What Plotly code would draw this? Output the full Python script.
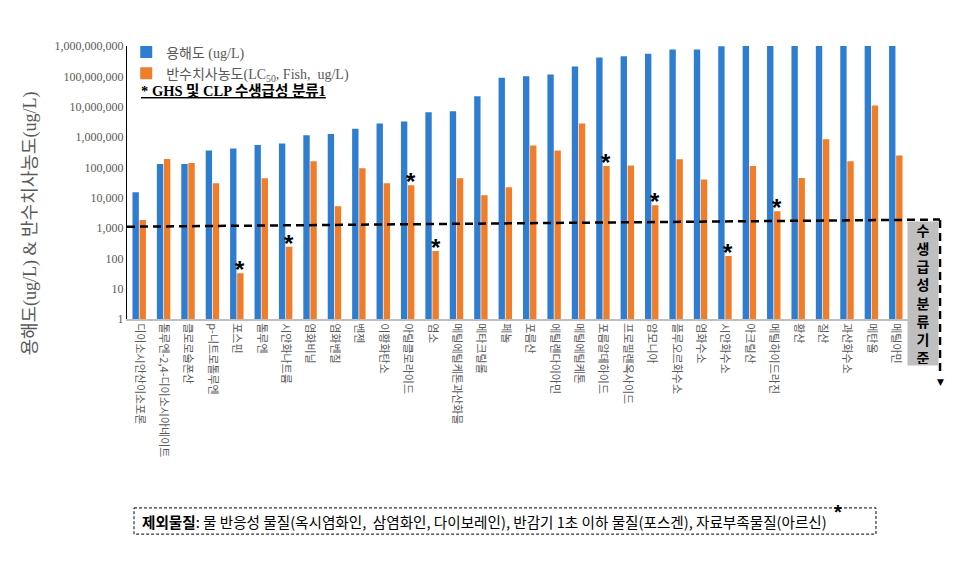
import math
import plotly.graph_objects as go

categories = [
    "디이소시안산이소포론", "톨루엔-2,4-디이소시아네이트", "클로로술폰산", "p-니트로톨루엔",
    "포스핀", "톨루엔", "시안화나트륨", "염화비닐", "염화벤질", "벤젠", "이황화탄소",
    "아릴클로라이드", "염소", "메틸에틸케톤과산화물", "메타크릴롤", "페놀", "포름산",
    "에틸렌다이아민", "메틸에틸케톤", "포름알데하이드", "프로필렌옥사이드", "암모니아",
    "플루오르화수소", "염화수소", "시안화수소", "아크릴산", "메틸하이드라진", "황산",
    "질산", "과산화수소", "메탄올", "메틸아민",
]

solubility = [
    15000, 128000, 128000, 360000, 420000, 540000, 610000, 1150000, 1250000, 1870000,
    2800000, 3250000, 6600000, 7100000, 22000000, 90000000, 100000000, 115000000,
    210000000, 420000000, 460000000, 560000000, 760000000, 760000000, 980000000,
    1000000000, 1000000000, 1000000000, 1000000000, 1000000000, 1000000000, 1050000000,
]

lc50_fish = [
    1850, 187000, 138000, 30000, 32, 44000, 240, 158000, 5200, 93000,
    30000, 25500, 173, 44000, 12000, 22000, 520000, 360000,
    2800000, 110000, 116000, 5600, 183000, 40000, 120,
    110000, 3550, 44500, 850000, 158000, 11000000, 245000,
]

ghs_cat1 = [
    False, False, False, False, True, False, True, False, False, False,
    False, True, True, False, False, False, False, False,
    False, True, False, True, False, False, True,
    False, True, False, False, False, False, False,
]

threshold_line = [1100, 1900]

y_tickvals = [1, 10, 100, 1000, 10000, 100000, 1000000, 10000000, 100000000, 1000000000]
y_ticktext = ["1", "10", "100", "1,000", "10,000", "100,000", "1,000,000",
              "10,000,000", "100,000,000", "1,000,000,000"]

BLUE = "#2E7DD1"
ORANGE = "#F07D2A"
GRAY = "#595959"
FONT = "Liberation Serif, Noto Sans CJK KR"
KFONT = "Noto Sans CJK KR"

fig = go.Figure()
fig.add_trace(go.Bar(
    x=categories, y=solubility, name="용해도 (ug/L)",
    marker=dict(color=BLUE, line=dict(width=0)),
))
fig.add_trace(go.Bar(
    x=categories, y=lc50_fish, name="반수치사농도(LC<sub>50</sub>, Fish,  ug/L)",
    marker=dict(color=ORANGE, line=dict(width=0)),
))

annotations = []
for cat, v, flag in zip(categories, lc50_fish, ghs_cat1):
    if flag:
        annotations.append(dict(
            x=cat, y=math.log10(v), xref="x", yref="y", xshift=3.5, yshift=-12,
            text="<b>*</b>", showarrow=False, yanchor="bottom",
            font=dict(family="Liberation Sans", size=24, color="black"),
        ))

# legend third line
annotations.append(dict(
    x=0.016, y=0.835, xref="paper", yref="paper", xanchor="left", yanchor="middle",
    text="<b><u>* GHS 및 CLP 수생급성 분류1</u></b>", showarrow=False,
    font=dict(family=FONT, size=14.5, color="black"),
))
# y axis title
annotations.append(dict(
    x=-0.124, y=0.35, xref="paper", yref="paper", textangle=-90,
    xanchor="center", yanchor="middle",
    text="용해도(ug/L) & 반수치사농도(ug/L)", showarrow=False,
    font=dict(family=FONT, size=18, color=GRAY),
))
# gray criterion box
annotations.append(dict(
    x=1.019, y=0.093, xref="paper", yref="paper", xanchor="center", yanchor="middle",
    text="<b>" + "<br>".join(list("수생급성분류기준")) + "</b>", showarrow=False,
    bgcolor="#BFBFBF", width=28, height=141, align="center", valign="middle",
    font=dict(family=KFONT, size=14, color="black"),
))
# arrow head
annotations.append(dict(
    x=1.041, y=-0.205, xref="paper", yref="paper", xanchor="center", yanchor="top",
    text="▼", showarrow=False,
    font=dict(family="DejaVu Sans", size=9, color="black"),
))
# bottom note
annotations.append(dict(
    x=0.017, y=-0.742, xref="paper", yref="paper", xanchor="left", yanchor="middle",
    text=("<b>제외물질</b>: 물 반응성 물질(옥시염화인,  삼염화인, 다이보레인), "
          "반감기 1초 이하 물질(포스겐), 자료부족물질(아르신)"),
    showarrow=False, font=dict(family=KFONT, size=14.6, color="black"),
))
annotations.append(dict(
    x=0.91, y=-0.708, xref="paper", yref="paper", xanchor="center", yanchor="middle",
    text="<b>*</b>", showarrow=False,
    font=dict(family="Liberation Sans", size=20, color="black"),
))

shapes = [
    dict(type="line", xref="paper", yref="y", x0=0, x1=1.041,
         y0=threshold_line[0], y1=threshold_line[1],
         line=dict(color="black", width=2.5, dash="8px,5px")),
    dict(type="line", xref="paper", yref="paper", x0=1.041, x1=1.041,
         y0=0.363, y1=-0.205,
         line=dict(color="black", width=2.5, dash="8px,5px")),
    dict(type="rect", xref="paper", yref="paper", x0=0.009, x1=0.959,
         y0=-0.692, y1=-0.788,
         line=dict(color="black", width=1, dash="3px,2px")),
]

fig.update_layout(
    width=956, height=585,
    margin=dict(l=127, r=48, t=46, b=266),
    paper_bgcolor="white", plot_bgcolor="white",
    barmode="group", bargap=0.42, bargroupgap=0.1,
    showlegend=True,
    legend=dict(x=-0.001, y=1.035, xanchor="left", yanchor="top",
                bgcolor="rgba(0,0,0,0)", font=dict(family=FONT, size=14, color=GRAY),
                tracegroupgap=0, itemwidth=30),
    annotations=annotations, shapes=shapes,
    xaxis=dict(type="category", showline=True, linecolor="#BFBFBF", linewidth=2,
               showgrid=False, ticks="", tickangle=90, automargin=False,
               tickfont=dict(family=KFONT, size=11, color=GRAY)),
    yaxis=dict(type="log", range=[0, 9], tickvals=y_tickvals, ticktext=y_ticktext,
               showline=True, linecolor="black", linewidth=1, showgrid=False,
               ticks="", zeroline=False, automargin=False,
               tickfont=dict(family="Liberation Serif", size=12, color=GRAY)),
)

fig.write_html("out.html", config={"displayModeBar": False},
               post_script="document.body.style.margin='0';")
